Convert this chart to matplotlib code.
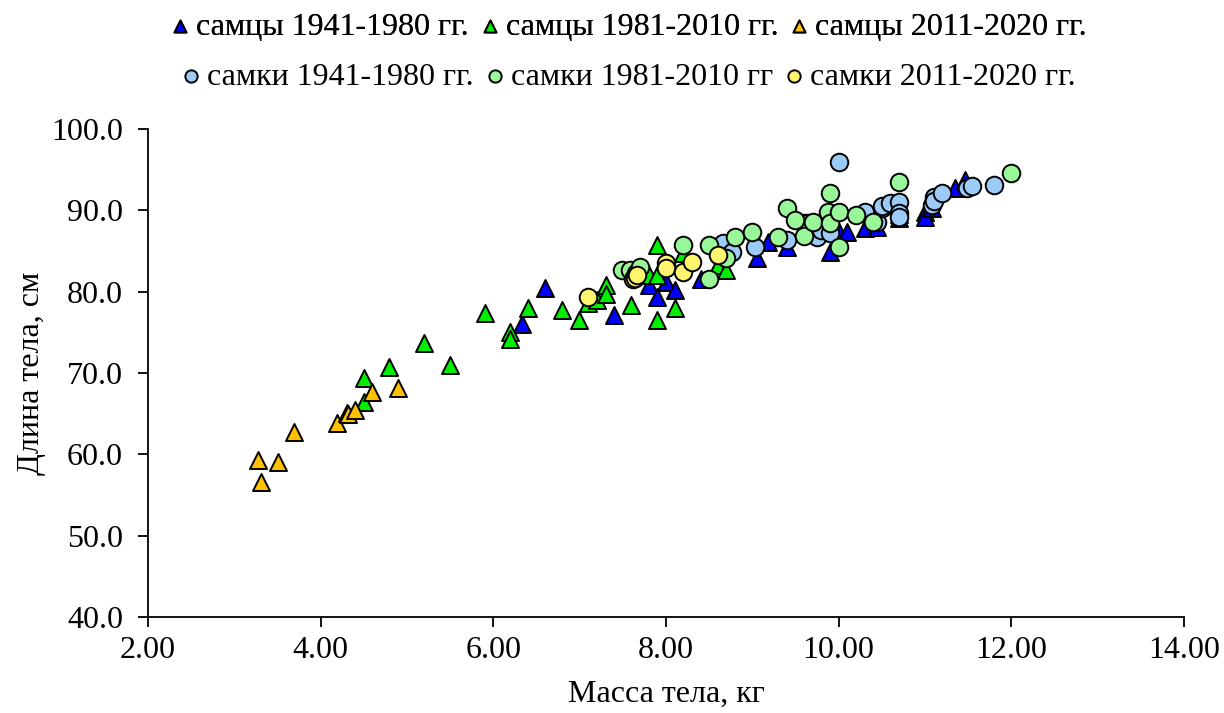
import matplotlib.pyplot as plt
from matplotlib.ticker import FormatStrFormatter, MultipleLocator

plt.rcParams["font.family"] = ["Liberation Serif", "DejaVu Serif"]

# body mass (kg) and body length (cm) per group
m1_mass = [6.33, 6.6, 7.4, 7.8, 7.9, 8.0, 8.1, 8.4, 9.05, 9.18, 9.4, 9.9, 10.0, 10.1,
           10.3, 10.45, 10.7, 10.7, 11.0, 11.0, 11.08, 11.35, 11.46]
m1_len = [76.0, 80.4, 77.1, 80.8, 79.4, 81.2, 80.2, 81.5, 84.1, 86.1, 85.5, 84.9, 87.3, 87.3,
          87.8, 88.0, 89.1, 89.5, 89.8, 89.2, 90.3, 92.7, 93.7]

m2_mass = [4.5, 4.5, 4.79, 5.2, 5.5, 5.9, 6.19, 6.19, 6.4, 6.8, 6.99, 7.1, 7.2, 7.3, 7.3,
           7.6, 7.8, 7.9, 7.9, 7.9, 8.1, 8.2, 8.6, 8.7]
m2_len = [69.4, 66.4, 70.7, 73.7, 71.0, 77.4, 75.0, 74.2, 78.0, 77.7, 76.5, 78.6, 79.0, 80.8, 79.7,
          78.4, 82.0, 82.0, 85.7, 76.5, 78.0, 84.7, 83.3, 82.7]

m3_mass = [3.27, 3.31, 3.51, 3.69, 4.19, 4.3, 4.32, 4.4, 4.6, 4.9]
m3_len = [59.3, 56.6, 59.05, 62.75, 63.85, 65.1, 64.9, 65.4, 67.7, 68.2]

f1_mass = [8.66, 8.77, 9.03, 9.4, 9.6, 9.65, 9.75, 9.8, 9.9, 10.0, 10.3, 10.45, 10.5, 10.5,
           10.6, 10.7, 10.7, 10.7, 11.08, 11.1, 11.1, 11.2, 11.49, 11.55, 11.8]
f1_len = [86.0, 84.9, 85.5, 86.3, 88.4, 88.5, 86.7, 87.6, 87.2, 96.0, 89.8, 88.6, 90.3, 90.5,
          90.9, 91.0, 89.7, 89.2, 90.6, 91.6, 91.2, 92.1, 92.7, 93.0, 93.1]

f2_mass = [7.49, 7.58, 7.65, 7.7, 8.2, 8.5, 8.5, 8.7, 8.8, 9.0, 9.3, 9.4, 9.5, 9.6, 9.7,
           9.88, 9.9, 9.9, 10.0, 10.0, 10.2, 10.4, 10.7, 12.0]
f2_len = [82.7, 82.7, 82.3, 83.0, 85.7, 85.7, 81.6, 84.1, 86.7, 87.3, 86.7, 90.3, 88.8, 86.9, 88.6,
          89.8, 88.4, 92.1, 89.8, 85.5, 89.4, 88.6, 93.5, 94.6]

f3_mass = [7.1, 7.62, 7.64, 7.66, 8.0, 8.0, 8.2, 8.3, 8.6]
f3_len = [79.3, 81.5, 81.7, 82.0, 83.5, 82.9, 82.4, 83.7, 84.5]

males = [
    ("самцы 1941-1980 гг.", m1_mass, m1_len, "#0000ff"),
    ("самцы 1981-2010 гг.", m2_mass, m2_len, "#00ee00"),
    ("самцы 2011-2020 гг.", m3_mass, m3_len, "#ffc000"),
]
females = [
    ("самки 1941-1980 гг.", f1_mass, f1_len, "#9dcbf7"),
    ("самки 1981-2010 гг", f2_mass, f2_len, "#99f799"),
    ("самки 2011-2020 гг.", f3_mass, f3_len, "#fff46e"),
]

FS = 23

fig = plt.figure(figsize=(12.24, 7.13), dpi=100)
ax = fig.add_axes([0.1209, 0.1346, 0.8464, 0.6845])

male_handles = []
for label, xs, ys, color in males:
    h = ax.scatter(xs, ys, s=150, marker="^", c=color, edgecolors="black",
                   linewidths=1.4, label=label, zorder=3)
    male_handles.append(h)
female_handles = []
for label, xs, ys, color in females:
    h = ax.scatter(xs, ys, s=160, marker="o", c=color, edgecolors="black",
                   linewidths=1.4, label=label, zorder=3)
    female_handles.append(h)

ax.set_xlim(2, 14)
ax.set_ylim(40, 100)
ax.xaxis.set_major_locator(MultipleLocator(2))
ax.yaxis.set_major_locator(MultipleLocator(10))
ax.xaxis.set_major_formatter(FormatStrFormatter("%.2f"))
ax.yaxis.set_major_formatter(FormatStrFormatter("%.1f"))
ax.tick_params(direction="out", length=7, width=1.3, labelsize=FS, colors="black")
ax.tick_params(axis="x", pad=7)
ax.tick_params(axis="y", pad=11)
for side in ("top", "right"):
    ax.spines[side].set_visible(False)
for side in ("left", "bottom"):
    ax.spines[side].set_linewidth(1.3)

ax.set_xlabel("Масса тела, кг", fontsize=FS, labelpad=10)
ax.set_ylabel("Длина тела, см", fontsize=FS, labelpad=4)

legend_kw = dict(ncol=3, frameon=False, fontsize=FS, handletextpad=0.0,
                 columnspacing=0.15, markerscale=0.7, borderaxespad=0,
                 handlelength=1.0)
leg1 = fig.legend(handles=male_handles, loc="center", bbox_to_anchor=(0.511, 0.962), **legend_kw)
fig.legend(handles=female_handles, loc="center", bbox_to_anchor=(0.511, 0.892), **legend_kw)
fig.add_artist(leg1)

fig.savefig("out.png", dpi=100)
